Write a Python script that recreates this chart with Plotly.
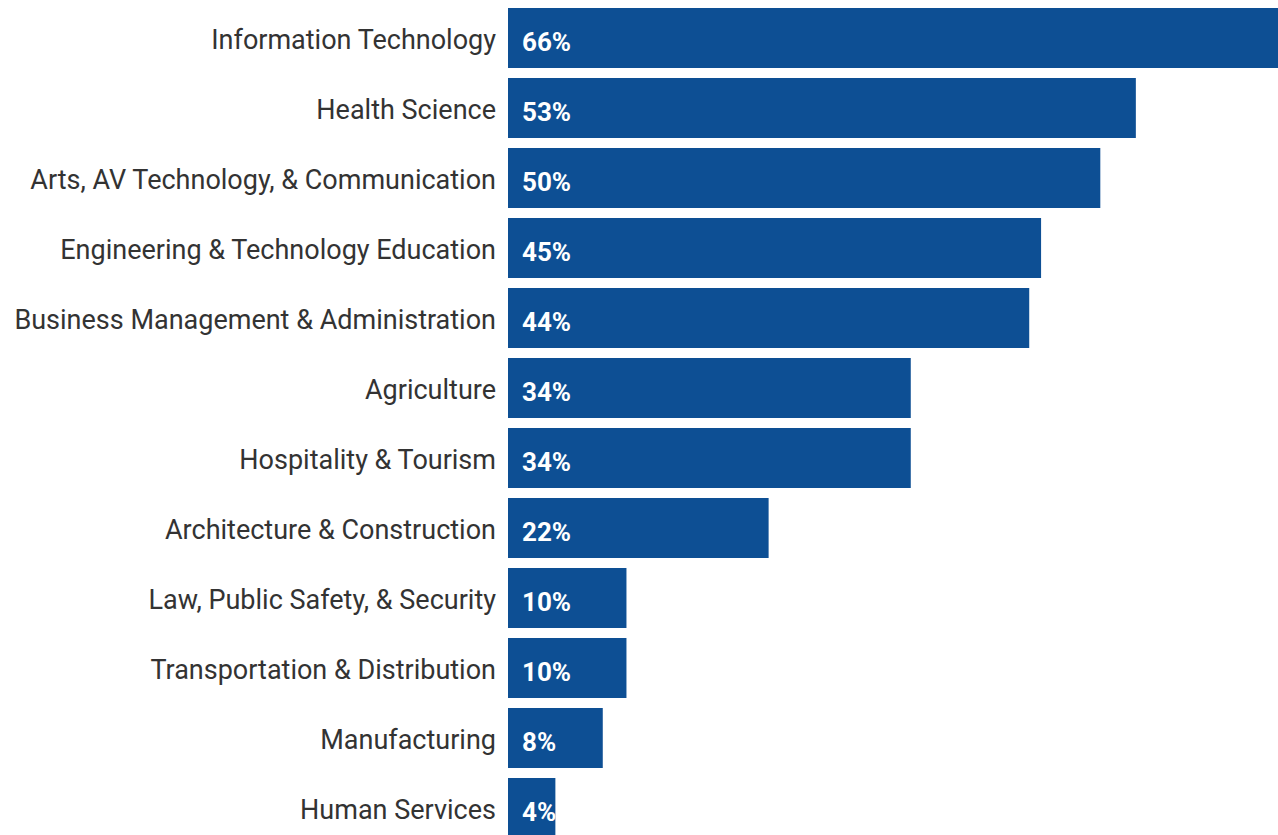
import plotly.graph_objects as go

# Share of respondents by career cluster (percent)
clusters = [
    "Information Technology",
    "Health Science",
    "Arts, AV Technology, & Communication",
    "Engineering & Technology Education",
    "Business Management & Administration",
    "Agriculture",
    "Hospitality & Tourism",
    "Architecture & Construction",
    "Law, Public Safety, & Security",
    "Transportation & Distribution",
    "Manufacturing",
    "Human Services",
]
shares = [66, 53, 50, 45, 44, 34, 34, 22, 10, 10, 8, 4]

BAR_COLOR = "#0d4f94"
LABEL_COLOR = "#333333"

fig = go.Figure()
fig.add_trace(
    go.Bar(
        x=shares,
        y=clusters,
        orientation="h",
        marker=dict(color=BAR_COLOR, line=dict(width=0)),
        hoverinfo="skip",
    )
)

# White value labels placed just inside the left end of each bar
for name, v in zip(clusters, shares):
    fig.add_annotation(
        x=0,
        y=name,
        xref="x",
        yref="y",
        text=f"{v}%",
        showarrow=False,
        xanchor="left",
        yanchor="middle",
        xshift=12,
        yshift=-4,
        font=dict(family="Roboto", size=26, color="white", weight="bold"),
    )

fig.update_layout(
    width=1278,
    height=835,
    margin=dict(l=508, r=0, t=0, b=0),
    paper_bgcolor="white",
    plot_bgcolor="white",
    bargap=0.143,
    showlegend=False,
    xaxis=dict(
        range=[0, 65],
        showgrid=False,
        zeroline=False,
        showticklabels=False,
        showline=False,
    ),
    yaxis=dict(
        categoryorder="array",
        categoryarray=clusters,
        range=[11.386, -0.543],
        showgrid=False,
        zeroline=False,
        showline=False,
        ticks="",
        ticklabelstandoff=11,
        ticklabelshift=-2,
        tickfont=dict(family="Roboto", size=27, color=LABEL_COLOR),
    ),
)

fig.write_html("out.html")
